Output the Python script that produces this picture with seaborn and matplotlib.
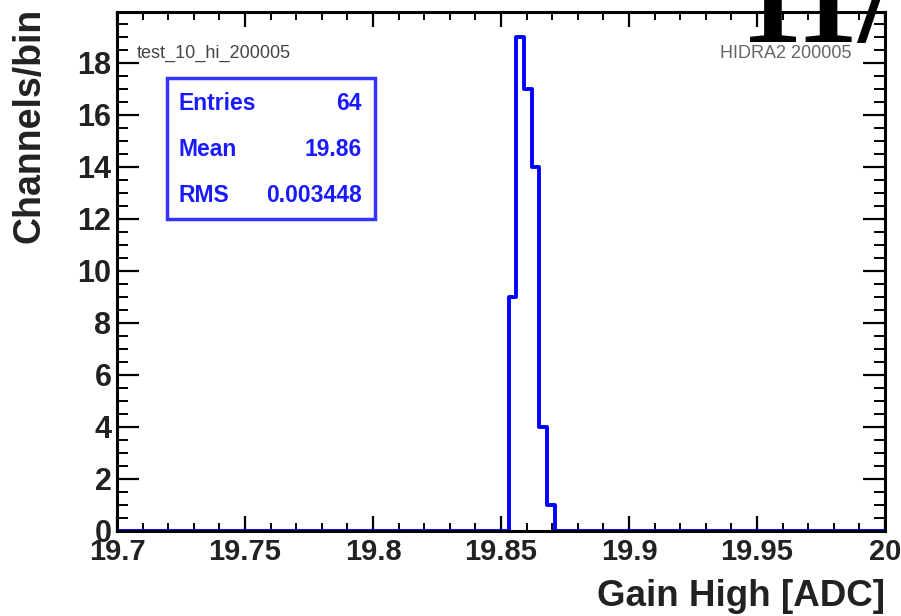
import matplotlib
matplotlib.use("Agg")
import matplotlib.pyplot as plt
import seaborn as sns
import numpy as np
import pandas as pd
from matplotlib.ticker import MultipleLocator, FixedLocator

# ---- data ----
bin_left_edges = [19.853, 19.856, 19.859, 19.862, 19.865, 19.868]
bin_counts = [9, 19, 17, 14, 4, 1]
bin_width = 0.003
x_range = (19.7, 20.0)
n_bins = 100
x_ticks = [19.7, 19.75, 19.8, 19.85, 19.9, 19.95, 20.0]
x_tick_labels = ["19.7", "19.75", "19.8", "19.85", "19.9", "19.95", "20"]
y_ticks = [0, 2, 4, 6, 8, 10, 12, 14, 16, 18]
stats_names = ["Entries", "Mean", "RMS"]
stats_values = ["64", "19.86", "0.003448"]
hist_name = "test_10_hi_200005"
run_label = "HIDRA2 200005"
big_title = "11/"
x_label = "Gain High [ADC]"
y_label = "Channels/bin"

sns.set_style("ticks")
plt.rcParams['font.family'] = ['Liberation Sans', 'DejaVu Sans']

W, H = 901, 616
fig = plt.figure(figsize=(W / 100, H / 100), dpi=100)
ax = fig.add_axes([117 / W, 1 - 531 / H, (885 - 117) / W, (531 - 12) / H])

df = pd.DataFrame({
    "x": [e + bin_width / 2 for e in bin_left_edges],
    "w": bin_counts,
})
sns.histplot(data=df, x="x", weights="w", bins=n_bins, binrange=x_range,
             element="step", fill=False, color="#0000ff", linewidth=2.8, ax=ax)

ax.set_xlim(*x_range)
ax.set_ylim(0, 19.95)
ax.set_xlabel("")
ax.set_ylabel("")

ax.xaxis.set_major_locator(FixedLocator(x_ticks))
ax.set_xticklabels(x_tick_labels)
ax.xaxis.set_minor_locator(MultipleLocator(0.01))
ax.yaxis.set_major_locator(FixedLocator(y_ticks))
ax.yaxis.set_minor_locator(MultipleLocator(0.5))

ax.tick_params(axis="both", which="both", direction="in", top=True, right=True,
               color="black")
ax.tick_params(axis="x", which="major", length=11, width=1.6, pad=5,
               labelsize=21)
ax.tick_params(axis="x", which="minor", length=6, width=1.4)
ax.tick_params(axis="y", which="major", length=16, width=1.6, pad=4,
               labelsize=22)
ax.tick_params(axis="y", which="minor", length=8, width=1.4)
for lab in ax.get_xticklabels() + ax.get_yticklabels():
    lab.set_fontweight("bold")
    lab.set_color("#222222")

for s in ax.spines.values():
    s.set_color("black")
    s.set_linewidth(2.2)
    s.set_visible(True)

# axis titles (ROOT style, aligned to the ends)
fig.text(885 / W, 1 - 597 / H, x_label, ha="right", va="center",
         fontsize=26.5, fontweight="bold", color="#222222")
fig.text(30 / W, 1 - 8 / H, y_label, ha="center", va="top", rotation=90,
         fontsize=27, fontweight="bold", color="#222222")

# small labels
fig.text(137 / W, 1 - 53 / H, hist_name, ha="left", va="center",
         fontsize=13, color="#444444")
fig.text(852 / W, 1 - 53 / H, run_label, ha="right", va="center",
         fontsize=13, color="#666666")

# stats box
box = plt.Rectangle((167 / W, 1 - 219 / H), (375 - 167) / W, (219 - 78) / H,
                    transform=fig.transFigure, fill=True, facecolor="white",
                    edgecolor="#3333ff", linewidth=2.5, zorder=5)
fig.add_artist(box)
for i, (n, v) in enumerate(zip(stats_names, stats_values)):
    yy = 1 - (104 + 46 * i) / H
    fig.text(178 / W, yy, n, ha="left", va="center", fontsize=16.5,
             fontweight="bold", color="#1a1aff", zorder=6)
    fig.text(362 / W, yy, v, ha="right", va="center", fontsize=16.5,
             fontweight="bold", color="#1a1aff", zorder=6)

# big clipped title
fig.text(740 / W, 1 - 42 / H, big_title, ha="left", va="baseline",
         fontsize=90, fontweight="bold", color="black",
         family=["Liberation Serif", "DejaVu Serif"], zorder=10)

fig.savefig("out.png", dpi=100)
